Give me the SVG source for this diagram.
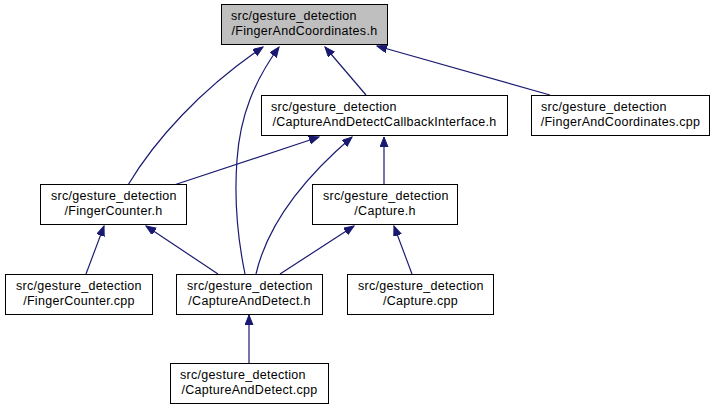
<svg xmlns="http://www.w3.org/2000/svg" width="717" height="409" viewBox="0 0 717 409">
<style>
.box{fill:#ffffff;stroke:#000000;stroke-width:1}
.root{fill:#bfbfbf;stroke:#000000;stroke-width:1}
text{font-family:"Liberation Sans",Arial,Helvetica,sans-serif;font-size:12.5px;letter-spacing:0.3px;fill:#000000}
.m{text-anchor:middle}
.e{fill:none;stroke:#191970;stroke-width:1.2}
</style>
<defs>
<marker id="ah" markerUnits="userSpaceOnUse" markerWidth="11" markerHeight="9" refX="10" refY="4" orient="auto">
<path d="M0,0 L10,4 L0,8 z" fill="#191970" stroke="#191970" stroke-width="1"/>
</marker>
</defs>
<rect width="717" height="409" fill="#ffffff"/>
<g id="edges">
<path class="e" marker-end="url(#ah)" d="M366,95 L325,47"/>
<path class="e" marker-end="url(#ah)" d="M550,95 L377,46"/>
<path class="e" marker-end="url(#ah)" d="M128,185 C155,140 200,90 263,47"/>
<path class="e" marker-end="url(#ah)" d="M245,274 C238,240 234,200 237,160 C240,115 255,80 279,47"/>
<path class="e" marker-end="url(#ah)" d="M174,185 L319,137"/>
<path class="e" marker-end="url(#ah)" d="M256,274 C265,235 290,190 352,137"/>
<path class="e" marker-end="url(#ah)" d="M384,185 L384,137"/>
<path class="e" marker-end="url(#ah)" d="M86,274 L104,226"/>
<path class="e" marker-end="url(#ah)" d="M218,274 L146,226"/>
<path class="e" marker-end="url(#ah)" d="M280,274 L354,226"/>
<path class="e" marker-end="url(#ah)" d="M412,274 L394,226"/>
<path class="e" marker-end="url(#ah)" d="M249,363 L249,315"/>
</g>
<g id="node0">
<rect class="root" x="221.5" y="4.5" width="166" height="40"/>
<text x="231" y="20">src/gesture_detection</text>
<text class="m" x="304.5" y="35">/FingerAndCoordinates.h</text>
</g>
<g id="node1">
<rect class="box" x="261.5" y="95.5" width="246" height="40"/>
<text x="271" y="111">src/gesture_detection</text>
<text class="m" x="384.5" y="126">/CaptureAndDetectCallbackInterface.h</text>
</g>
<g id="node2">
<rect class="box" x="531.5" y="95.5" width="178" height="40"/>
<text x="541" y="111">src/gesture_detection</text>
<text class="m" x="620.5" y="126">/FingerAndCoordinates.cpp</text>
</g>
<g id="node3">
<rect class="box" x="40.5" y="184.5" width="146" height="40"/>
<text x="51" y="200">src/gesture_detection</text>
<text class="m" x="113.5" y="215">/FingerCounter.h</text>
</g>
<g id="node4">
<rect class="box" x="312.5" y="184.5" width="145" height="40"/>
<text x="323" y="200">src/gesture_detection</text>
<text class="m" x="385" y="215">/Capture.h</text>
</g>
<g id="node5">
<rect class="box" x="5.5" y="274.5" width="147" height="40"/>
<text x="16" y="290">src/gesture_detection</text>
<text class="m" x="79" y="305">/FingerCounter.cpp</text>
</g>
<g id="node6">
<rect class="box" x="176.5" y="274.5" width="146" height="40"/>
<text x="187" y="290">src/gesture_detection</text>
<text class="m" x="249.5" y="305">/CaptureAndDetect.h</text>
</g>
<g id="node7">
<rect class="box" x="347.5" y="274.5" width="146" height="40"/>
<text x="358" y="290">src/gesture_detection</text>
<text class="m" x="420.5" y="305">/Capture.cpp</text>
</g>
<g id="node8">
<rect class="box" x="170.5" y="363.5" width="158" height="40"/>
<text x="180" y="379">src/gesture_detection</text>
<text class="m" x="249.5" y="394">/CaptureAndDetect.cpp</text>
</g>
</svg>
